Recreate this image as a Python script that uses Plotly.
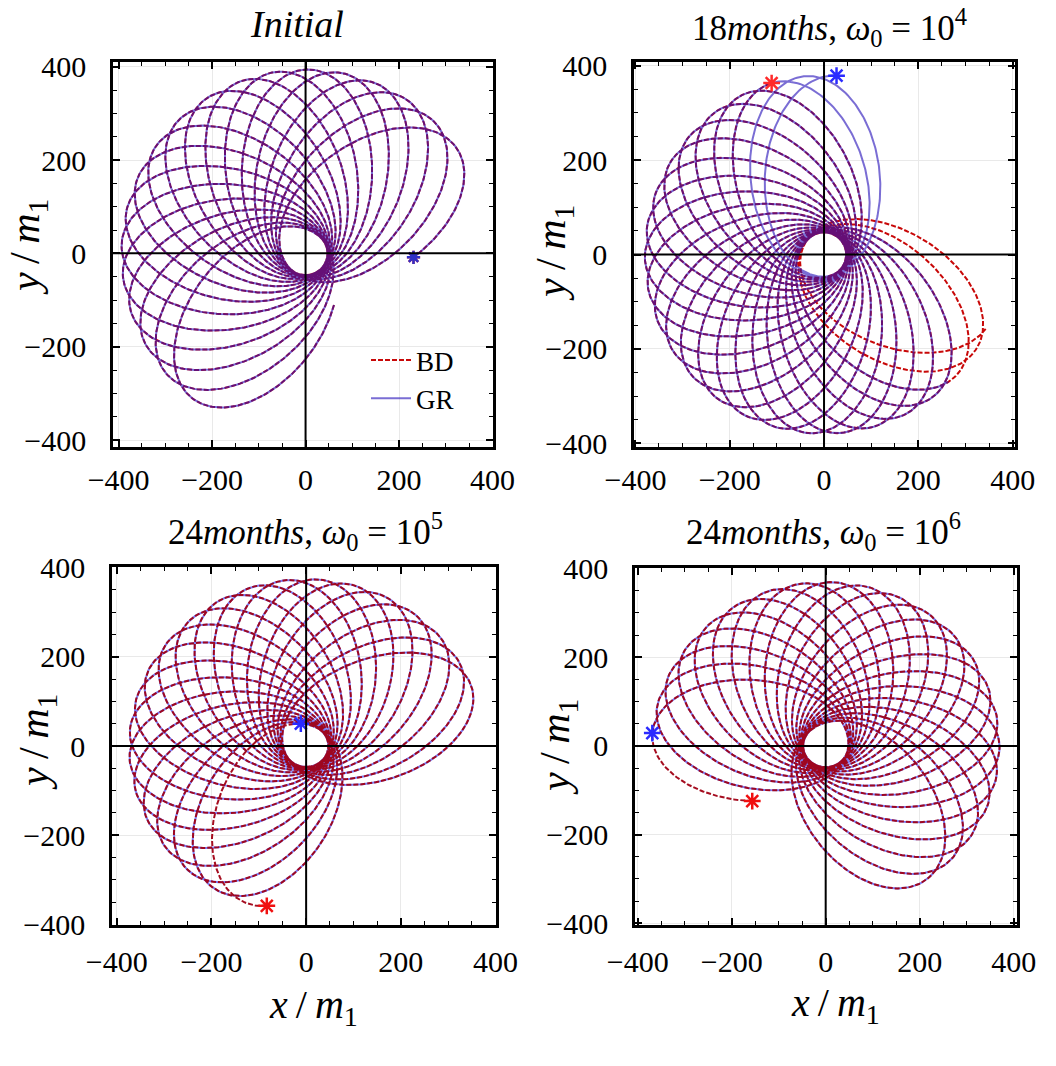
import numpy as np
import plotly.graph_objects as go

# ---------------- data ----------------
# Apocentre direction (deg) of each successive loop of the orbit, in tracing order
P1_APO = [232, 221, 210, 199, 188, 177, 166, 155, 144, 133, 122, 111, 100,
          89, 78.5, 67.5, 57, 46, 35]
P2_APO = [339, 328.5, 318, 307.5, 297, 286, 275.5, 265, 254.5, 244, 233.5, 223,
          212.5, 202, 191.5, 181, 170.5, 160, 149, 138.5, 128, 117.5, 107, 96.5, 86]
P3_APO = [251, 240, 229, 218, 207, 196, 185, 174, 163, 152, 141, 130, 119, 108,
          97, 86, 75, 64, 53, 42, 31, 22]
P4_APO = [175.5, 164.5, 153.5, 142.5, 131.5, 120.5, 109.5, 98.5, 87.5, 76.5, 65.5,
          54.5, 43.5, 32.5, 21.5, 10.5, -0.5, -11.5, -22.5, -33.5, -44.5, -55.5]
APO = [P1_APO, P2_APO, P3_APO, P4_APO]

# apocentre / pericentre distances (x/m1)
R_APO = [394, 380, 374, 370]
R_PERI = [47, 47, 47, 48]

# part of the orbit drawn by each series (in loops, 0 = first apocentre)
BD_START = [-0.18, 0.01, -0.016, -0.116]
BD_END = [18.1, 22.0, 21.45, 21.5]
GR_START = [-0.18, 2.01, 0.40, 0.0]
GR_END = [18.1, 24.0, 21.5, 21.5]
# which end of each series carries the star marker
STAR_AT = ["end", "end", "start", "start"]

TITLES = ["<i>Initial</i>",
          "18<i>months</i>, <i>ω</i><sub>0</sub> = 10<sup>4</sup>",
          "24<i>months</i>, <i>ω</i><sub>0</sub> = 10<sup>5</sup>",
          "24<i>months</i>, <i>ω</i><sub>0</sub> = 10<sup>6</sup>"]
TICKS = [-400, -200, 0, 200, 400]
TICK_TEXT = ["\u2212400", "\u2212200", "0", "200", "400"]

# ---------------- layout geometry (pixels) ----------------
W, H = 1056, 1066
BOX = [(113, 493, 62, 447), (634, 1015, 62, 447),
       (112, 496, 567, 925), (635, 1017, 568, 925)]
XR = [(-412, 401), (-403, 405), (-410, 401), (-405.7, 407)]
YR = [(-415, 410), (-408, 408), (-401, 401), (-404, 401.5)]


def orbit(apo, ra, rp, s0, s1, npl=500):
    apo = np.asarray(apo, float)
    k = np.arange(len(apo))
    s = np.linspace(s0, s1, int(abs(s1 - s0) * npl) + 2)
    om = np.interp(s, k, apo)
    lo = s < 0
    om[lo] = apo[0] + (apo[1] - apo[0]) * s[lo]
    hi = s > k[-1]
    om[hi] = apo[-1] + (apo[-1] - apo[-2]) * (s[hi] - k[-1])
    e = (ra - rp) / (ra + rp)
    p = 2 * ra * rp / (ra + rp)
    nu = np.radians(180 + 360 * s)
    r = p / (1 + e * np.cos(nu))
    phi = np.radians(om - 360 * s)
    return r * np.cos(phi), r * np.sin(phi)


fig = go.Figure()
FONT = "Liberation Serif"

for i in range(4):
    ax = "" if i == 0 else str(i + 1)
    xa, ya = "x" + ax, "y" + ax
    bx, by = orbit(APO[i], R_APO[i], R_PERI[i], BD_START[i], BD_END[i])
    gx, gy = orbit(APO[i], R_APO[i], R_PERI[i], GR_START[i], GR_END[i])
    if i < 2:
        bd_col, gr_col = "#c80808", "rgba(40,20,185,0.62)"
    else:
        bd_col, gr_col = "rgba(160,0,20,0.95)", "rgba(90,90,240,0.8)"
    bd = go.Scatter(x=bx, y=by, mode="lines", name="BD", xaxis=xa, yaxis=ya,
                    line=dict(color=bd_col, width=2, dash="5px,2px"),
                    showlegend=(i == 0), legendrank=1)
    gr = go.Scatter(x=gx, y=gy, mode="lines", name="GR", xaxis=xa, yaxis=ya,
                    line=dict(color=gr_col, width=2),
                    showlegend=(i == 0), legendrank=2)
    if i < 2:
        fig.add_trace(bd)
        fig.add_trace(gr)
    else:
        fig.add_trace(gr)
        fig.add_trace(bd)
    j = -1 if STAR_AT[i] == "end" else 0
    red = "#ff2a2a" if i < 2 else "#f01010"
    blue = "#3030c8" if i == 0 else "#2a2aff"
    size = 11 if i == 0 else 14
    fig.add_trace(go.Scatter(x=[bx[j]], y=[by[j]], mode="markers", xaxis=xa, yaxis=ya,
                             showlegend=False, hoverinfo="skip",
                             marker=dict(symbol="asterisk-open", size=size, color=red,
                                         line=dict(width=2.5, color=red))))
    fig.add_trace(go.Scatter(x=[gx[j]], y=[gy[j]], mode="markers", xaxis=xa, yaxis=ya,
                             showlegend=False, hoverinfo="skip",
                             marker=dict(symbol="asterisk-open", size=size, color=blue,
                                         line=dict(width=2.5, color=blue))))

    x0, x1, y0, y1 = BOX[i]
    common = dict(showline=True, linecolor="black", linewidth=2.5, mirror="allticks",
                  ticks="inside", ticklen=7, tickwidth=1.5, tickcolor="black",
                  tickvals=TICKS, ticktext=TICK_TEXT, showgrid=True,
                  gridcolor="#e9e9e9", gridwidth=1, zeroline=False, automargin=False,
                  tickfont=dict(family=FONT, size=30, color="black"),
                  minor=dict(ticks="inside", dtick=50, ticklen=4, tickcolor="black",
                             tickwidth=1, showgrid=False))
    fig.update_layout(**{
        "xaxis" + ax: dict(domain=[x0 / W, x1 / W], range=list(XR[i]), anchor=ya,
                           ticklabelstandoff=4 if i < 2 else 8, **common),
        "yaxis" + ax: dict(domain=[1 - y1 / H, 1 - y0 / H], range=list(YR[i]), anchor=xa,
                           ticklabelstandoff=18, **common),
    })
    # coordinate axes through the origin
    fig.add_shape(type="line", xref=xa, yref=ya, x0=XR[i][0], x1=XR[i][1], y0=0, y1=0,
                  line=dict(color="black", width=2), layer="above")
    fig.add_shape(type="line", xref=xa, yref=ya, x0=0, x1=0, y0=YR[i][0], y1=YR[i][1],
                  line=dict(color="black", width=2), layer="above")

ann = []
TITLE_POS = [(297, 24), (829, 28), (305, 531), (823, 531)]
for i, (tx, ty) in enumerate(TITLE_POS):
    ann.append(dict(text=TITLES[i], x=tx / W, y=1 - ty / H, xref="paper", yref="paper",
                    showarrow=False, xanchor="center", yanchor="middle",
                    font=dict(family=FONT, size=38 if i == 0 else 35, color="black")))
YT = "<i>y</i>\u2009/\u2009<i>m</i><sub>1</sub>"
XT = "<i>x</i>\u2009/\u2009<i>m</i><sub>1</sub>"
YT_POS = [(28, 247), (554, 253), (37, 742), (558, 747)]
for tx, ty in YT_POS:
    ann.append(dict(text=YT, x=tx / W, y=1 - ty / H,
                    xref="paper", yref="paper", showarrow=False, textangle=-90,
                    xanchor="center", yanchor="middle",
                    font=dict(family=FONT, size=42, color="black")))
XT_POS = [(313, 1007), (835, 1005)]
for tx, ty in XT_POS:
    ann.append(dict(text=XT, x=tx / W, y=1 - ty / H,
                    xref="paper", yref="paper", showarrow=False,
                    xanchor="center", yanchor="middle",
                    font=dict(family=FONT, size=40, color="black")))

fig.update_layout(width=W, height=H, margin=dict(l=0, r=0, t=0, b=0),
                  paper_bgcolor="white", plot_bgcolor="white", annotations=ann,
                  legend=dict(x=366 / W, y=1 - 336 / H, xanchor="left", yanchor="top",
                              bgcolor="rgba(0,0,0,0)",
                              font=dict(family=FONT, size=27, color="black"),
                              itemwidth=40, tracegroupgap=0))

fig.write_html("out.html")
